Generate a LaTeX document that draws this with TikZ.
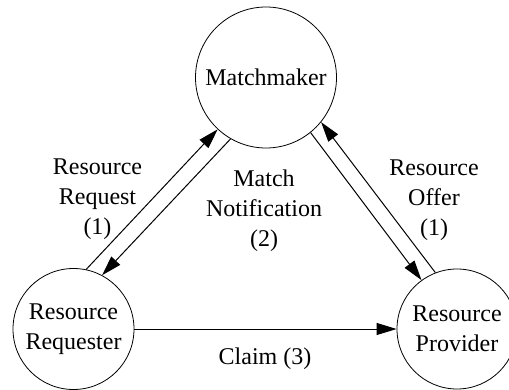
\documentclass[tikz,border=0pt]{standalone}
\usepackage{fontspec}
\setmainfont{Liberation Serif}
\usetikzlibrary{arrows.meta}

\tikzset{
  party/.style={draw, circle, inner sep=0pt, align=center,
                font=\fontsize{12}{15}\selectfont},
  flowlabel/.style={align=center, inner sep=0pt,
                    font=\fontsize{12}{15}\selectfont},
  flow/.style={line width=0.5pt, -{Triangle[length=10pt,width=6pt]}}
}

\begin{document}
\begin{tikzpicture}[x=0.5pt, y=-0.5pt]
  \useasboundingbox (0,0) rectangle (509,390);

  % the three parties
  \node[party, minimum size=70.5pt] (mm)   at (266,77.5) {Matchmaker};
  \node[party, minimum size=60.5pt] (req)  at (73.5,329) {Resource\\Requester};
  \node[party, minimum size=60pt]   (prov) at (457,329)  {Resource\\Provider};

  % message flows
  \draw[flow] (req.78)  -- (mm.227);
  \draw[flow] (mm.240)  -- (req.62);
  \draw[flow] (mm.309)  -- (prov.126);
  \draw[flow] (prov.111) -- (mm.321);
  \draw[flow] (req.east) -- (prov.west);

  % flow labels
  \node[flowlabel] (lreq)   at (97.5,199) {Resource\\Request\\(1)};
  \node[flowlabel] (lmatch) at (264,211)  {Match\\Notification\\(2)};
  \node[flowlabel] (loffer) at (434,200)  {Resource\\Offer\\(1)};
  \node[flowlabel] (lclaim) at (265,359)  {Claim (3)};
\end{tikzpicture}
\end{document}
